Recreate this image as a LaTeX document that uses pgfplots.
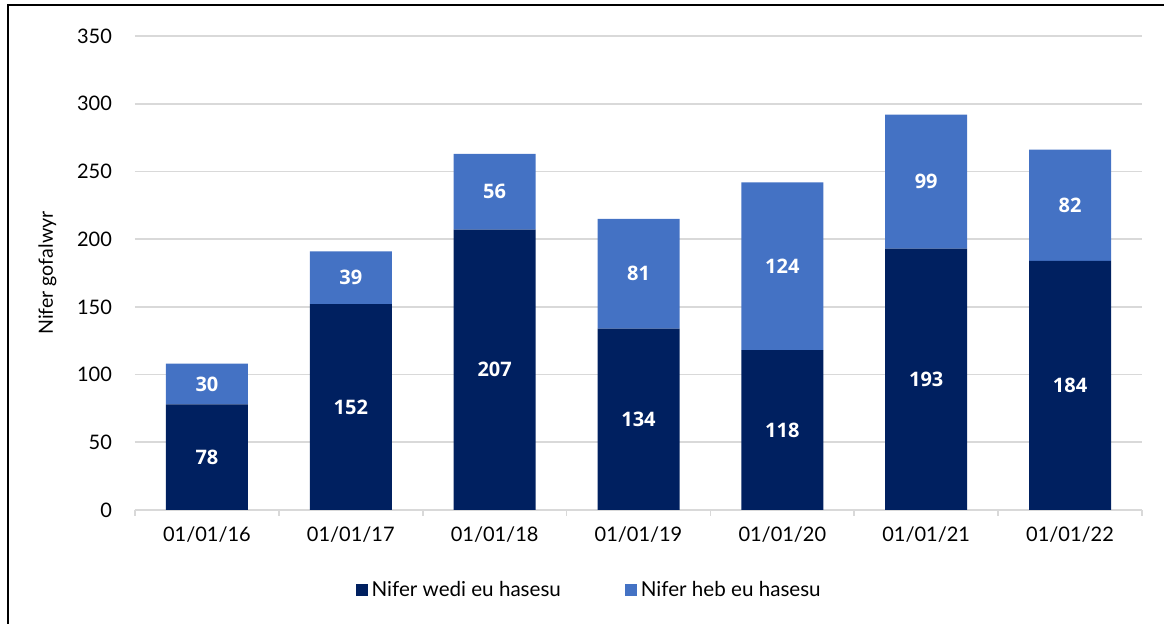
\documentclass[border=0pt]{standalone}
\usepackage{fontspec}
\setmainfont{Lato}
\newfontfamily\lblfont{Open Sans}
\usepackage{pgfplots}
\pgfplotsset{compat=1.18}
\definecolor{navy}{HTML}{002060}
\definecolor{lblue}{HTML}{4472C4}
\definecolor{gridgray}{HTML}{D9D9D9}

\begin{document}
\begin{tikzpicture}
\useasboundingbox (0,0) rectangle (582pt,312pt);
\draw[line width=1pt] (4pt,-2pt) -- (4pt,309.3pt) -- (590pt,309.3pt);
\begin{axis}[
  at={(67.5pt,57pt)}, anchor=south west,
  scale only axis, width=503.5pt, height=237pt,
  ybar stacked, bar width=41pt,
  xmin=-0.5, xmax=6.5, ymin=0, ymax=350,
  xtick={0,...,6},
  xticklabels={01/01/16,01/01/17,01/01/18,01/01/19,01/01/20,01/01/21,01/01/22},
  minor xtick={-0.5,0.5,...,6.5},
  major tick length=0pt, minor tick length=3pt,
  tick align=outside,
  ytick={0,50,...,350},
  ymajorgrids, grid style={draw=gridgray, line width=0.8pt},
  axis x line*=bottom, axis y line*=left,
  x axis line style={draw=gridgray, line width=0.8pt},
  y axis line style={draw=none},
  minor tick style={draw=gridgray, line width=0.8pt},
  ytick style={draw=none},
  tick label style={font=\fontsize{10}{12}\selectfont},
  /pgf/number format/assume math mode=true,
  yticklabel style={xshift=-8pt},
  xticklabel style={yshift=-5pt},
  ylabel={Nifer gofalwyr},
  ylabel style={font=\fontsize{9.8}{11}\selectfont, yshift=3.5pt},
  nodes near coords,
  every node near coord/.append style={anchor=center, text=white, font=\lblfont\bfseries\fontsize{10}{12}\selectfont},
  legend columns=2,
  legend style={at={(0.452,-0.169)}, anchor=center, draw=none, font=\fontsize{10.3}{12}\selectfont,
    /tikz/every even column/.append style={column sep=30pt}},
  legend image code/.code={\fill[#1] (0pt,-3pt) rectangle (6pt,3pt);},
]
\addplot[fill=navy, draw=none] coordinates {(0,78) (1,152) (2,207) (3,134) (4,118) (5,193) (6,184)};
\addplot[fill=lblue, draw=none] coordinates {(0,30) (1,39) (2,56) (3,81) (4,124) (5,99) (6,82)};
\legend{Nifer wedi eu hasesu, Nifer heb eu hasesu}
\end{axis}
\end{tikzpicture}
\end{document}
